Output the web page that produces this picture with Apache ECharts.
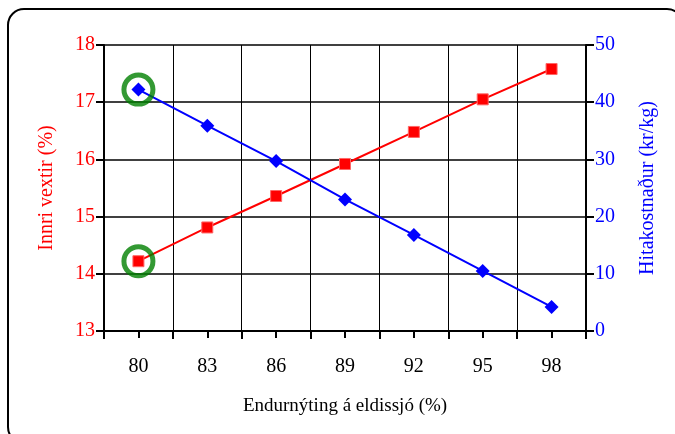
<!DOCTYPE html>
<html>
<head>
<meta charset="utf-8">
<script src="https://cdn.jsdelivr.net/npm/echarts@6/dist/echarts.min.js"></script>
<style>
html,body{margin:0;padding:0;background:#fff;}
#c{width:675px;height:434px;}
</style>
</head>
<body>
<div id="c"></div>
<script>
// Data
const categories = ['80', '83', '86', '89', '92', '95', '98'];
const innriVextir = [14.22, 14.81, 15.36, 15.92, 16.48, 17.05, 17.58];
const hitakostnadur = [42.2, 35.9, 29.7, 23.0, 16.8, 10.5, 4.2];
const leftTicks = { min: 13, max: 18, interval: 1 };
const rightTicks = { min: 0, max: 50, interval: 10 };
const highlightIndex = 0;

const FONT = '"Liberation Serif", "DejaVu Serif", serif';
const chart = echarts.init(document.getElementById('c'), null, { renderer: 'canvas' });

function highlightData(arr) {
  return arr.map((v, i) => (i === highlightIndex ? v : '-'));
}

const option = {
  animation: false,
  backgroundColor: '#fff',
  textStyle: { fontFamily: FONT },
  graphic: [{
    type: 'rect',
    shape: { x: 8, y: 9, width: 675, height: 434, r: 16 },
    style: { fill: 'none', stroke: '#000', lineWidth: 2 },
    silent: true,
    z: -1
  }],
  grid: { left: 104, right: 89, top: 45, bottom: 103, containLabel: false },
  xAxis: [{
    type: 'category',
    data: categories,
    boundaryGap: true,
    name: 'Endurnýting á eldissjó (%)',
    nameLocation: 'middle',
    nameGap: 66,
    nameTextStyle: { color: '#000', fontSize: 19, fontFamily: FONT },
    axisLine: { show: true, lineStyle: { color: '#000', width: 2 } },
    axisTick: { show: true, interval: 0, alignWithLabel: false, length: 8, lineStyle: { color: '#000', width: 2 } },
    axisLabel: { color: '#000', fontSize: 20, fontFamily: FONT, margin: 26, interval: 0 },
    splitLine: { show: true, interval: 0, lineStyle: { color: '#000', width: 1 } }
  }, {
    type: 'category',
    data: categories,
    boundaryGap: true,
    position: 'bottom',
    axisLine: { show: false },
    axisTick: { show: true, interval: 0, alignWithLabel: true, length: 7, lineStyle: { color: '#000', width: 2 } },
    axisLabel: { show: false },
    splitLine: { show: false }
  }],
  yAxis: [{
    type: 'value',
    position: 'left',
    min: leftTicks.min, max: leftTicks.max, interval: leftTicks.interval,
    name: 'Innri vextir (%)',
    nameLocation: 'middle',
    nameRotate: 90,
    nameGap: 47,
    nameTextStyle: { color: '#ff0000', fontSize: 20, fontFamily: FONT },
    axisLine: { show: true, lineStyle: { color: '#000', width: 2 } },
    axisTick: { show: true, length: 8, lineStyle: { color: '#000', width: 2 } },
    axisLabel: { color: '#ff0000', fontSize: 20, fontFamily: FONT, margin: 9 },
    splitLine: { show: true, lineStyle: { color: '#000', width: 1.5 } }
  }, {
    type: 'value',
    position: 'right',
    min: rightTicks.min, max: rightTicks.max, interval: rightTicks.interval,
    name: 'Hitakostnaður (kr/kg)',
    nameLocation: 'middle',
    nameRotate: 90,
    nameGap: 52,
    nameTextStyle: { color: '#0000ff', fontSize: 20, fontFamily: FONT },
    axisLine: { show: true, lineStyle: { color: '#000', width: 2 } },
    axisTick: { show: true, length: 8, lineStyle: { color: '#000', width: 2 } },
    axisLabel: { color: '#0000ff', fontSize: 20, fontFamily: FONT, margin: 9 },
    splitLine: { show: false }
  }],
  series: [{
    name: 'Innri vextir',
    type: 'line',
    xAxisIndex: 0, yAxisIndex: 0,
    data: innriVextir,
    symbol: 'rect',
    symbolSize: 11,
    lineStyle: { color: '#ff0000', width: 2 },
    itemStyle: { color: '#ff0000', borderColor: '#ff6666', borderWidth: 1 },
    z: 3
  }, {
    name: 'Hitakostnaður',
    type: 'line',
    xAxisIndex: 0, yAxisIndex: 1,
    data: hitakostnadur,
    symbol: 'diamond',
    symbolSize: 14,
    lineStyle: { color: '#0000ff', width: 2 },
    itemStyle: { color: '#0000ff' },
    z: 3
  }, {
    name: 'hl1',
    type: 'scatter',
    xAxisIndex: 0, yAxisIndex: 0,
    data: highlightData(innriVextir),
    symbol: 'circle',
    symbolSize: 29,
    itemStyle: { color: 'rgba(0,0,0,0)', borderColor: '#008000', borderWidth: 5 },
    z: 4
  }, {
    name: 'hl2',
    type: 'scatter',
    xAxisIndex: 0, yAxisIndex: 1,
    data: highlightData(hitakostnadur),
    symbol: 'circle',
    symbolSize: 29,
    itemStyle: { color: 'rgba(0,0,0,0)', borderColor: '#008000', borderWidth: 5 },
    z: 4
  }]
};
chart.setOption(option);
</script>
</body>
</html>
